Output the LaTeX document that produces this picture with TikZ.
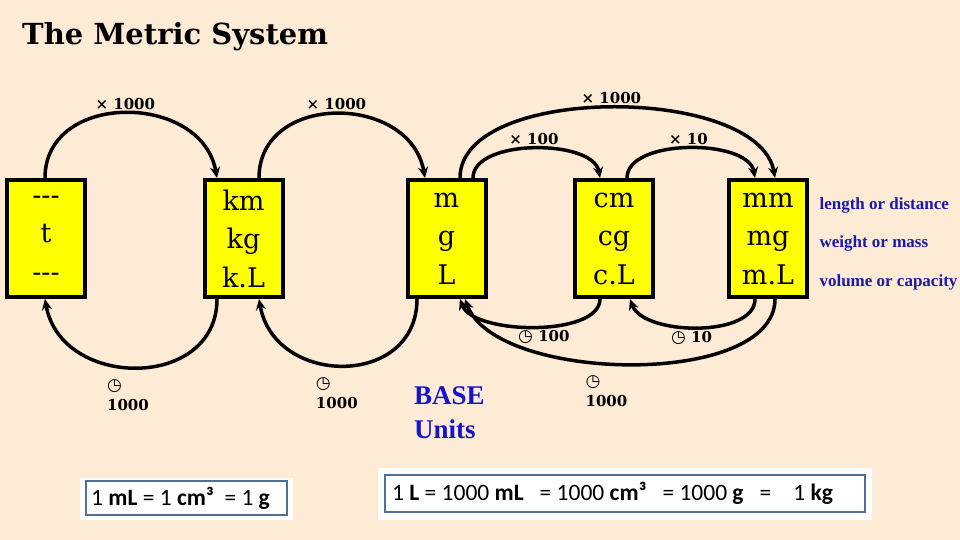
\documentclass[tikz,border=0pt]{standalone}
\usepackage{fontspec}
\setmainfont{DejaVu Serif}
\newfontfamily\narrowserif{Liberation Serif}
\newfontfamily\symfont{DejaVu Sans}
\newfontfamily\calfont{Carlito}
\usepackage{tikz}
\usetikzlibrary{arrows.meta, positioning}
\definecolor{bgpeach}{RGB}{253,235,214}
\definecolor{unityellow}{RGB}{255,255,0}
\definecolor{labelblue}{RGB}{26,26,170}
\definecolor{baseblue}{RGB}{20,20,200}
\definecolor{frameblue}{RGB}{80,110,150}
\newcommand{\divsign}{{\symfont\mdseries\fontsize{17}{17}\selectfont ◷}}

\begin{document}
\begin{tikzpicture}[
      x=1pt, y=1pt,
      unitbox/.style={rectangle, draw, line width=4pt, fill=unityellow, minimum width=78pt, minimum height=117pt, align=center, inner sep=0pt, font=\fontsize{27}{38.5}\selectfont},
      hop/.style={-{Stealth[length=11pt, width=10pt]}, line width=3.5pt},
      factor/.style={font=\bfseries\fontsize{15}{20}\selectfont, inner sep=2pt},
      kind/.style={anchor=west, text=labelblue, font=\narrowserif\bfseries\fontsize{17}{19}\selectfont},
      frame/.style={draw=frameblue, line width=1.2pt, fill=white},
      rule/.style={anchor=west, inner sep=0pt, font=\calfont\fontsize{23.5}{26}\selectfont}
    ]
      \fill[bgpeach] (0,0) rectangle (960,540);
      \useasboundingbox (0,0) rectangle (960,540);

      % Title
      \node[anchor=base west, font=\bfseries\fontsize{29}{34}\selectfont, inner sep=0pt] (title) at (22,495) {The Metric System};

      % Unit boxes
      \node[unitbox] (t)  at (46,301.5)    {-{}-{}-\\t\\-{}-{}-};
      \node[unitbox] (km) at (243.5,301.5) {km\\kg\\k.L};
      \node[unitbox] (m)  at (446.5,301.5) {m\\g\\L};
      \node[unitbox] (cm) at (614,301.5)   {cm\\cg\\c.L};
      \node[unitbox] (mm) at (768,301.5)   {mm\\mg\\m.L};

      % Quantities
      \node[kind] (len) at (816,335) {length or distance};
      \node[kind] (wgt) at (816,297) {weight or mass};
      \node[kind] (vol) at (816,258) {volume or capacity};

      \node[align=left, text=baseblue, font=\narrowserif\bfseries\fontsize{27}{34}\selectfont, anchor=west, inner sep=0pt] (base) at (414,127) {BASE\\Units};

      % Multiply arcs (top)
      \draw[hop] ([xshift=-1pt]t.north) to[out=90, in=100, looseness=1.3]
        node[factor, above] (x1) {× 1000} ([xshift=-26.5pt]km.north);
      \draw[hop] ([xshift=15.5pt]km.north) to[out=90, in=100, looseness=1.33]
        node[factor, above] (x2) {× 1000} ([xshift=-21.5pt]m.north);
      \draw[hop] ([xshift=13.5pt]m.north) to[out=90, in=100, looseness=0.77]
        node[factor, above] (x3) {× 1000} ([xshift=7pt]mm.north);
      \draw[hop] ([xshift=26.5pt]m.north) to[out=90, in=100, looseness=0.8]
        node[factor, above] (x4) {× 100} ([xshift=-14pt]cm.north);
      \draw[hop] ([xshift=13pt]cm.north) to[out=90, in=100, looseness=0.8]
        node[factor, above] (x5) {× 10} ([xshift=-13pt]mm.north);

      % Divide arcs (bottom)
      \draw[hop] ([xshift=-26.5pt]km.south) to[out=-90, in=-80, looseness=1.37]
        node[factor, below=8pt, align=left, xshift=-9pt] (d1) {\divsign\\1000} ([xshift=-1pt]t.south);
      \draw[hop] ([xshift=-29.5pt]m.south) to[out=-90, in=-80, looseness=1.45]
        node[factor, below=8pt, align=left, xshift=-7pt] (d2) {\divsign\\1000} ([xshift=15.5pt]km.south);
      \draw[hop] ([xshift=-14pt]cm.south) to[out=-90, in=-70, looseness=0.7]
        node[factor, below, xshift=9pt] (d3) {\divsign\ 100} ([xshift=13.5pt]m.south);
      \draw[hop] ([xshift=-13pt]mm.south) to[out=-90, in=-70, looseness=0.8]
        node[factor, below, xshift=-6pt] (d4) {\divsign\ 10} ([xshift=16pt]cm.south);
      \draw[hop] ([xshift=7pt]mm.south) to[out=-90, in=-70, looseness=0.74]
        node[factor, below=8pt, align=left, xshift=-25pt] (d5) {\divsign\\1000} ([xshift=18.5pt]m.south);

      % Equivalences
      \fill[white] (80,20) rectangle (293,62);
      \draw[frame] (86,25) rectangle (287,59);
      \node[rule] (eq1) at (91,42) {1 \textbf{mL} = 1 \textbf{cm³} \ = 1 \textbf{g}};
      \fill[white] (378,20) rectangle (872,72);
      \draw[frame] (385,28) rectangle (865,65);
      \node[rule] (eq2) at (392,46.5) {1 \textbf{L} = 1000 \textbf{mL}\hspace{16pt}= 1000 \textbf{cm³}\hspace{16pt}= 1000 \textbf{g}\hspace{16pt}=\hspace{22pt}1 \textbf{kg}};

    \end{tikzpicture}
\end{document}
